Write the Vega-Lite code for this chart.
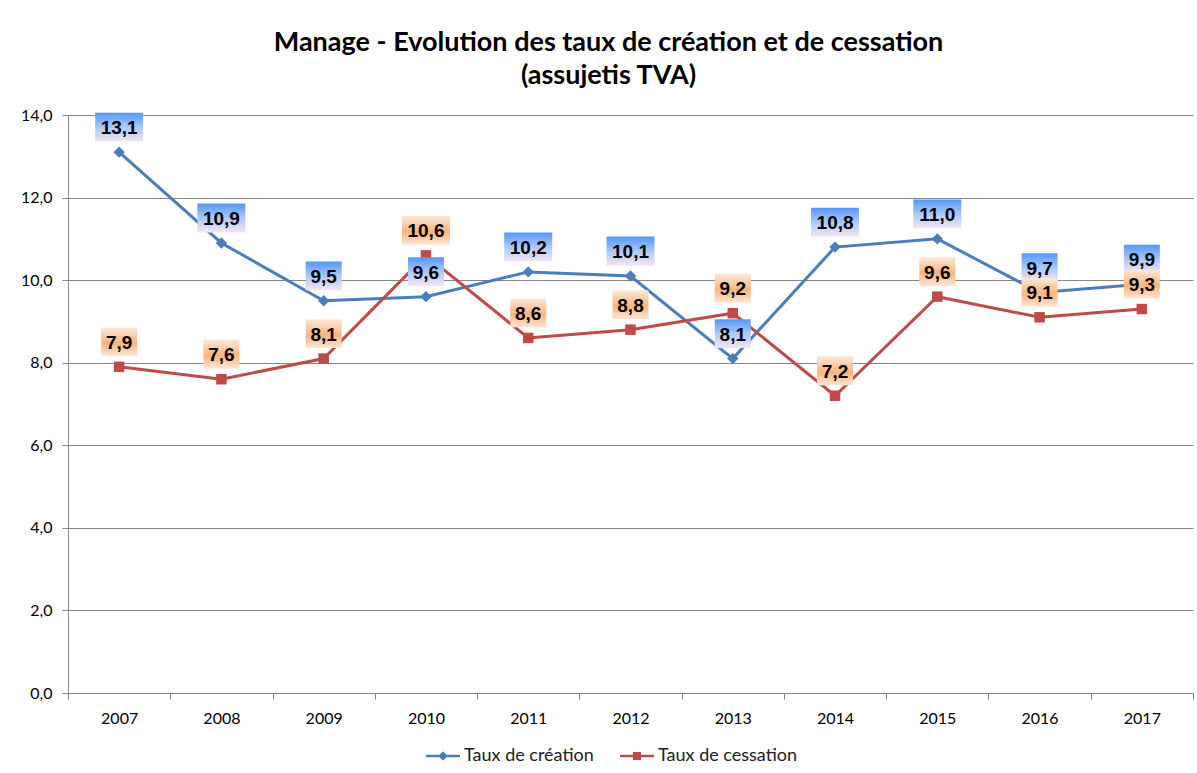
{
  "$schema": "https://vega.github.io/schema/vega-lite/v6.json",
  "autosize": {"type": "none"},
  "padding": {"left": 68, "top": 115, "right": 4, "bottom": 80},
  "width": 1125,
  "height": 578,
  "background": "white",
  "config": {
    "locale": {"number": {"decimal": ",", "thousands": " ", "grouping": [3], "currency": ["", " €"]}},
    "view": {"stroke": null},
    "font": "Lato"
  },
  "title": {
    "text": ["Manage - Evolution des taux de création et de cessation", "(assujetis TVA)"],
    "font": "Lato",
    "fontSize": 27,
    "fontWeight": "bold",
    "lineHeight": 33,
    "color": "black",
    "anchor": "middle",
    "dx": -22,
    "offset": 17
  },
  "data": {
    "values": [
      {"year": "2007", "series": "Taux de création", "v": 13.1},
      {"year": "2008", "series": "Taux de création", "v": 10.9},
      {"year": "2009", "series": "Taux de création", "v": 9.5},
      {"year": "2010", "series": "Taux de création", "v": 9.6},
      {"year": "2011", "series": "Taux de création", "v": 10.2},
      {"year": "2012", "series": "Taux de création", "v": 10.1},
      {"year": "2013", "series": "Taux de création", "v": 8.1},
      {"year": "2014", "series": "Taux de création", "v": 10.8},
      {"year": "2015", "series": "Taux de création", "v": 11.0},
      {"year": "2016", "series": "Taux de création", "v": 9.7},
      {"year": "2017", "series": "Taux de création", "v": 9.9},
      {"year": "2007", "series": "Taux de cessation", "v": 7.9},
      {"year": "2008", "series": "Taux de cessation", "v": 7.6},
      {"year": "2009", "series": "Taux de cessation", "v": 8.1},
      {"year": "2010", "series": "Taux de cessation", "v": 10.6},
      {"year": "2011", "series": "Taux de cessation", "v": 8.6},
      {"year": "2012", "series": "Taux de cessation", "v": 8.8},
      {"year": "2013", "series": "Taux de cessation", "v": 9.2},
      {"year": "2014", "series": "Taux de cessation", "v": 7.2},
      {"year": "2015", "series": "Taux de cessation", "v": 9.6},
      {"year": "2016", "series": "Taux de cessation", "v": 9.1},
      {"year": "2017", "series": "Taux de cessation", "v": 9.3}
    ]
  },
  "encoding": {
    "x": {
      "field": "year", "type": "ordinal",
      "scale": {"paddingInner": 0, "paddingOuter": 0},
      "axis": {
        "title": null, "labelAngle": 0, "tickBand": "extent", "grid": false,
        "domainColor": "#868686", "tickColor": "#868686", "tickSize": 6,
        "labelFont": "Lato", "labelFontSize": 16, "labelColor": "black", "labelPadding": 11
      }
    },
    "y": {
      "field": "v", "type": "quantitative",
      "scale": {"domain": [0, 14], "nice": false, "zero": true},
      "axis": {
        "title": null, "values": [0, 2, 4, 6, 8, 10, 12, 14], "format": ".1f",
        "grid": true, "gridColor": "#868686", "gridWidth": 1,
        "domainColor": "#868686", "tickColor": "#868686", "tickSize": 6,
        "labelFont": "Lato", "labelFontSize": 16, "labelColor": "black", "labelPadding": 10
      }
    }
  },
  "layer": [
    {
      "mark": {"type": "line", "strokeWidth": 3},
      "encoding": {
        "color": {
          "field": "series", "type": "nominal",
          "scale": {"domain": ["Taux de création", "Taux de cessation"], "range": ["#4a7ebb", "#be4b48"]},
          "legend": {
            "orient": "none", "legendX": 358, "legendY": 624, "direction": "horizontal",
            "title": null, "symbolSize": 1150, "labelFont": "Lato", "labelFontSize": 18,
            "labelColor": "#222222", "columnPadding": 26, "labelOffset": 4,
            "encode": {
              "symbols": {
                "update": {
                  "shape": {"signal": "datum.label === 'Taux de création' ? 'M-1,-0.07L1,-0.07L1,0.07L-1,0.07Z M0,-0.28L0.28,0L0,0.28L-0.28,0Z' : 'M-1,-0.07L1,-0.07L1,0.07L-1,0.07Z M-0.24,-0.24L0.24,-0.24L0.24,0.24L-0.24,0.24Z'"},
                  "fill": {"signal": "datum.label === 'Taux de création' ? '#4a7ebb' : '#be4b48'"},
                  "strokeWidth": {"value": 0},
                  "opacity": {"value": 1}
                }
              }
            }
          }
        }
      }
    },
    {
      "transform": [{"filter": "datum.series === 'Taux de création'"}],
      "mark": {"type": "point", "shape": "diamond", "filled": true, "size": 130, "color": "#4a7ebb", "opacity": 1}
    },
    {
      "transform": [{"filter": "datum.series === 'Taux de cessation'"}],
      "mark": {"type": "point", "shape": "square", "filled": true, "size": 110, "color": "#be4b48", "opacity": 1}
    },
    {
      "transform": [{"filter": "datum.series === 'Taux de création'"}],
      "mark": {
        "type": "point", "filled": true, "opacity": 1, "strokeWidth": 0, "size": 2304, "yOffset": -25,
        "fill": {"gradient": "linear", "x1": 0, "y1": 0, "x2": 0, "y2": 1,
          "stops": [{"offset": 0, "color": "#5596f8"}, {"offset": 0.5, "color": "#a9c9f6"}, {"offset": 1, "color": "#f4e4f4"}]}
      },
      "encoding": {
        "shape": {"condition": {"test": "datum.v >= 10", "value": "M-1,-0.6L1,-0.6L1,0.6L-1,0.6Z"}, "value": "M-0.75,-0.6L0.75,-0.6L0.75,0.6L-0.75,0.6Z"}
      }
    },
    {
      "transform": [{"filter": "datum.series === 'Taux de création'"}],
      "mark": {"type": "text", "font": "Liberation Sans", "fontSize": 19, "fontWeight": "bold", "color": "black", "baseline": "middle", "yOffset": -24},
      "encoding": {"text": {"field": "v", "type": "quantitative", "format": ".1f"}}
    },
    {
      "transform": [{"filter": "datum.series === 'Taux de cessation'"}],
      "mark": {
        "type": "point", "filled": true, "opacity": 1, "strokeWidth": 0, "size": 2304, "yOffset": -25,
        "fill": {"gradient": "linear", "x1": 0, "y1": 0, "x2": 0, "y2": 1,
          "stops": [{"offset": 0, "color": "#fde9d8"}, {"offset": 0.55, "color": "#f9b47c"}, {"offset": 1, "color": "#fde6d6"}]}
      },
      "encoding": {
        "shape": {"condition": {"test": "datum.v >= 10", "value": "M-1,-0.6L1,-0.6L1,0.6L-1,0.6Z"}, "value": "M-0.75,-0.6L0.75,-0.6L0.75,0.6L-0.75,0.6Z"}
      }
    },
    {
      "transform": [{"filter": "datum.series === 'Taux de cessation'"}],
      "mark": {"type": "text", "font": "Liberation Sans", "fontSize": 19, "fontWeight": "bold", "color": "black", "baseline": "middle", "yOffset": -24},
      "encoding": {"text": {"field": "v", "type": "quantitative", "format": ".1f"}}
    }
  ]
}
